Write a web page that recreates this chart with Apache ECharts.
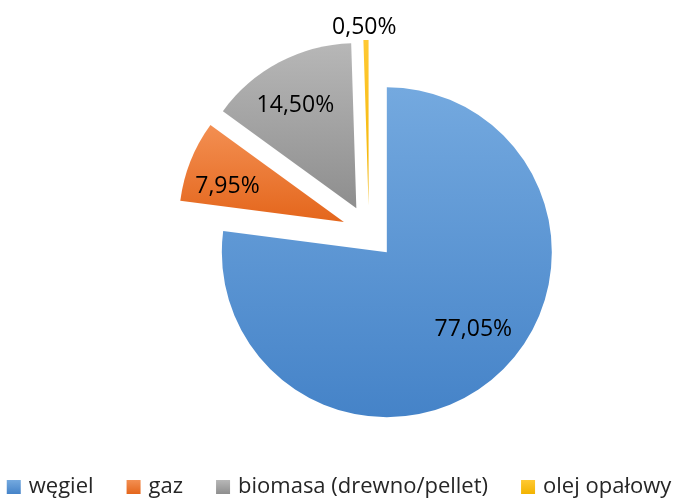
<!DOCTYPE html>
<html>
<head>
<meta charset="utf-8">
<script src="https://cdn.jsdelivr.net/npm/echarts@6/dist/echarts.min.js"></script>
<style>
  html, body { margin: 0; padding: 0; background: #fff; }
  #chart { width: 678px; height: 501px; }
</style>
</head>
<body>
<div id="chart"></div>
<script>
const names = ['węgiel', 'gaz', 'biomasa (drewno/pellet)', 'olej opałowy'];
const values = [77.05, 7.95, 14.50, 0.50];

// top / bottom of the vertical gradient for each slice
const colorsTop = ['#74a9df', '#f38f52', '#b7b7b7', '#ffc933'];
const colorsBottom = ['#4583c8', '#e4661c', '#8e8e8e', '#f2b300'];
// label nudges from the inside position
const labelOffsets = [[30, 13], [-37, -4], [-21, -27], [-3, -92]];

function grad(i) {
    return {
        type: 'linear', x: 0, y: 0, x2: 0, y2: 1,
        colorStops: [
            { offset: 0, color: colorsTop[i] },
            { offset: 1, color: colorsBottom[i] }
        ]
    };
}

const chart = echarts.init(document.getElementById('chart'));

chart.setOption({
    animation: false,
    legend: {
        bottom: -2,
        left: 'center',
        icon: 'rect',
        itemWidth: 14,
        itemHeight: 14,
        itemGap: 33,
        selectedMode: false,
        textStyle: {
            fontFamily: 'Open Sans', fontSize: 22, color: '#262626',
            padding: [0, 0, 0, 3]
        },
        data: names
    },
    series: [{
        type: 'pie',
        center: [369, 232],
        radius: [0, 165],
        startAngle: 90,
        clockwise: true,
        selectedMode: 'multiple',
        selectedOffset: 27,
        emphasis: { disabled: true },
        labelLine: { show: false },
        label: {
            position: 'inside',
            fontFamily: 'Open Sans',
            fontSize: 23,
            color: '#000',
            formatter: function (p) {
                return p.value.toFixed(2).replace('.', ',') + '%';
            }
        },
        labelLayout: function (p) {
            const o = labelOffsets[p.dataIndex];
            return { dx: o[0], dy: o[1] };
        },
        data: names.map(function (n, i) {
            return {
                name: n,
                value: values[i],
                selected: true,
                itemStyle: { color: grad(i) }
            };
        })
    }]
});
</script>
</body>
</html>
